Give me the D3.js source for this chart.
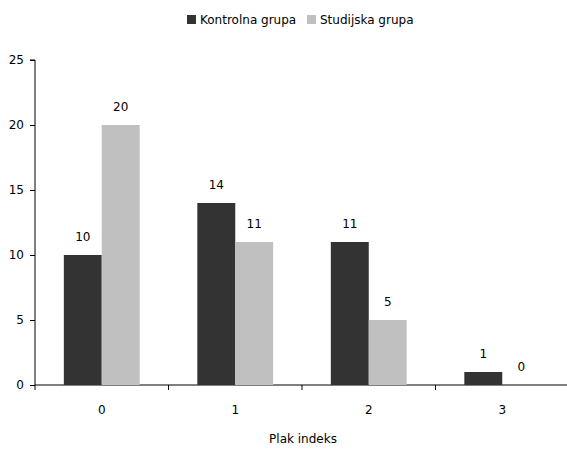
<!DOCTYPE html>
<html>
<head>
<meta charset="utf-8">
<script src="https://cdn.jsdelivr.net/npm/d3@7"></script>
<style>
  body { margin: 0; background: #fff; }
  svg text { font-family: "DejaVu Sans", sans-serif; font-size: 12px; fill: #000; }
</style>
</head>
<body>
<svg id="chart" width="567" height="449"></svg>
<script>
// Plaque index distribution for the two groups
const categories = ["0", "1", "2", "3"];
const seriesNames = ["Kontrolna grupa", "Studijska grupa"];
const kontrolna = [10, 14, 11, 1];
const studijska = [20, 11, 5, 0];
const yTicks = [0, 5, 10, 15, 20, 25];
const xTitle = "Plak indeks";
const colors = ["#333333", "#c0c0c0"];

const svg = d3.select("#chart");
const plotLeft = 35, plotRight = 569, plotTop = 60, plotBottom = 385;

const x = d3.scaleBand().domain(categories).range([plotLeft, plotRight]).paddingInner(0).paddingOuter(0);
const inner = d3.scaleBand().domain(seriesNames).range([0, x.bandwidth()]).paddingInner(0).paddingOuter(0.76);
const y = d3.scaleLinear().domain([0, 25]).range([plotBottom, plotTop]);

// y axis
const yAxis = svg.append("g").attr("transform", `translate(${plotLeft},0)`)
  .call(d3.axisLeft(y).tickValues(yTicks).tickSize(5).tickPadding(6));
yAxis.select(".domain").attr("stroke", "#000").attr("d", `M-5,${plotTop}H0V${plotBottom}`);
yAxis.selectAll("text").attr("font-family", null).attr("font-size", null);

// x axis with ticks on band boundaries
const xg = svg.append("g").attr("transform", `translate(0,${plotBottom})`);
xg.append("line").attr("x1", plotLeft).attr("x2", plotRight).attr("y1", 0).attr("y2", 0).attr("stroke", "#000");
const bounds = categories.map(c => x(c));
xg.selectAll("line.tick").data(bounds).join("line").attr("class", "tick")
  .attr("x1", d => d).attr("x2", d => d).attr("y1", 0).attr("y2", 5).attr("stroke", "#000");
xg.selectAll("text").data(categories).join("text")
  .attr("x", d => x(d) + x.bandwidth() / 2).attr("y", 29)
  .attr("text-anchor", "middle").text(d => d);

svg.append("text").attr("x", 303).attr("y", 443)
  .attr("text-anchor", "middle").text(xTitle);

// bars
const series = [kontrolna, studijska];
const groups = svg.append("g");
series.forEach((vals, si) => {
  const g = groups.append("g");
  g.selectAll("rect").data(vals).join("rect")
    .attr("x", (d, i) => x(categories[i]) + inner(seriesNames[si]))
    .attr("y", d => y(d))
    .attr("width", inner.bandwidth())
    .attr("height", d => plotBottom - y(d))
    .attr("fill", colors[si]);
  g.selectAll("text").data(vals).join("text")
    .attr("x", (d, i) => x(categories[i]) + inner(seriesNames[si]) + inner.bandwidth() / 2)
    .attr("y", d => y(d) - 14)
    .attr("text-anchor", "middle")
    .text(d => d);
});

// legend
const legend = svg.append("g").attr("transform", "translate(187,15)");
const lx = [0, 120];
seriesNames.forEach((n, i) => {
  legend.append("rect").attr("x", lx[i]).attr("y", 0).attr("width", 9).attr("height", 9).attr("fill", colors[i]);
  legend.append("text").attr("x", lx[i] + 13).attr("y", 9).text(n);
});
</script>
</body>
</html>
